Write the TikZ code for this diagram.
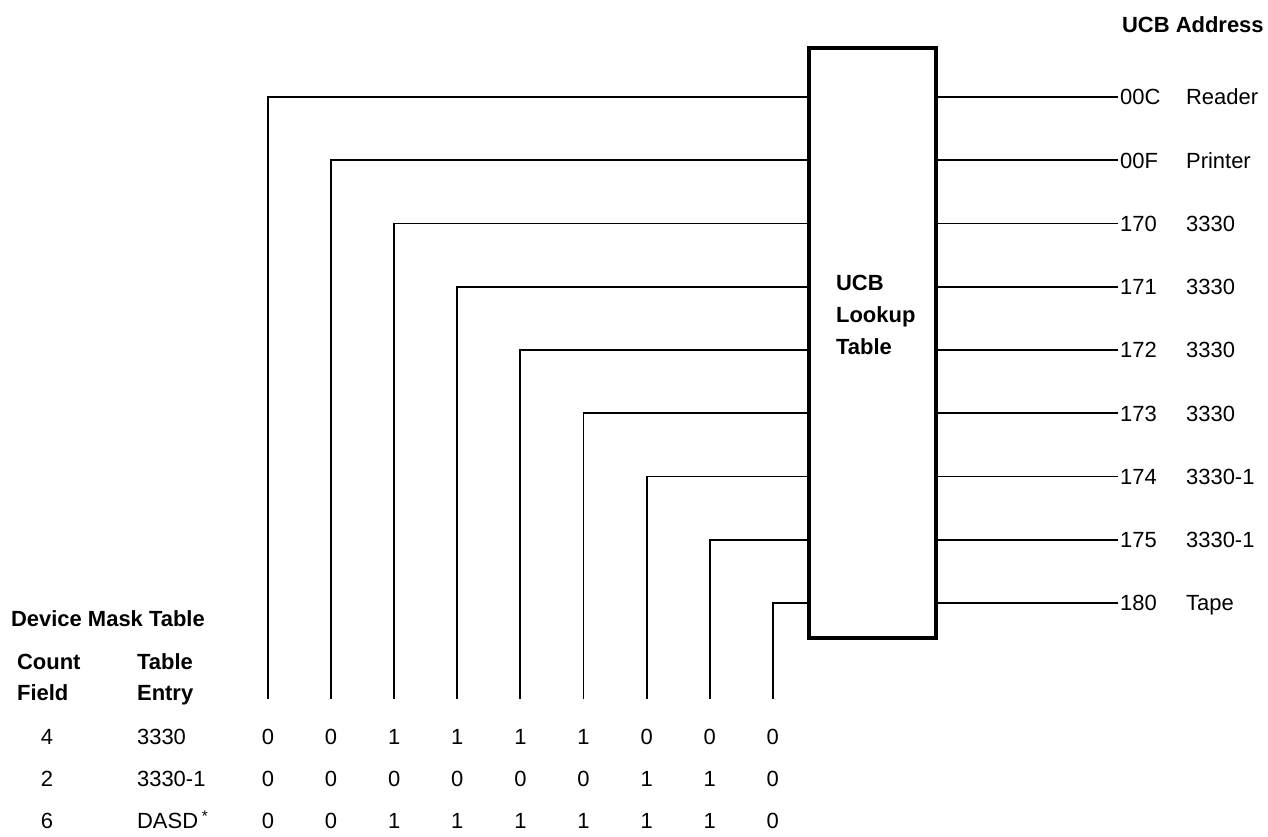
\documentclass[tikz,border=0pt]{standalone}
\usepackage{fontspec}
\setmainfont{Liberation Sans}
\usetikzlibrary{positioning}

\begin{document}
\begin{tikzpicture}[x=0.02cm, y=-0.02cm,
  txt/.style={font=\fontsize{12.5}{15}\selectfont, inner sep=1pt, text height=9pt, text depth=0pt},
  head/.style={txt, font=\fontsize{12.5}{15}\selectfont\bfseries},
  wire/.style={line width=1.1pt},
  lookup/.style={draw, line width=2.3pt, minimum width=2.54cm, minimum height=11.8cm, inner sep=0pt}
]
  \useasboundingbox (0,0) rectangle (1268,836);

  % Lookup table box
  \node[lookup] (ucb) at (872.5, 343) {};
  \node[font=\fontsize{12.5}{15}\selectfont\bfseries, inner sep=1pt, anchor=west, align=left] (ucblabel) at (834, 315) {UCB\\[3pt]Lookup\\[3pt]Table};
  \node[head, anchor=west] (addrhead) at (1120, 25) {UCB Address};

  % Wires in and out of the table
  \foreach \i/\addr/\dev in {1/00C/Reader, 2/00F/Printer, 3/170/3330, 4/171/3330, 5/172/3330,
                             6/173/3330, 7/174/3330-1, 8/175/3330-1, 9/180/Tape} {
    \pgfmathsetmacro\yy{97+63.25*(\i-1)}
    \pgfmathsetmacro\xx{268+63.1*(\i-1)}
    \coordinate (in\i) at (809, \yy);
    \coordinate (foot\i) at (\xx, 699);
    \node[txt, anchor=west] (addr\i) at (1118, \yy) {\addr};
    \node[txt, anchor=west] (dev\i) at (1184, \yy) {\dev};
    \draw[wire] (foot\i) |- (in\i);
    \draw[wire] (ucb.east |- addr\i) -- (addr\i.west);
  }

  % Device mask table
  \node[head, anchor=west] (masktitle) at (9, 619) {Device Mask Table};
  \node[head, anchor=west] (count1) at (15, 662) {Count};
  \node[head, anchor=west] (count2) at (15, 693) {Field};
  \node[head, anchor=west] (entry1) at (135, 662) {Table};
  \node[head, anchor=west] (entry2) at (135, 693) {Entry};
  \node[txt] (cnt1) at (47, 737) {4};
  \node[txt] (cnt2) at (47, 779) {2};
  \node[txt] (cnt3) at (47, 821) {6};
  \node[txt, anchor=west] (ent1) at (135, 737) {3330};
  \node[txt, anchor=west] (ent2) at (135, 779) {3330-1};
  \node[txt, anchor=west] (ent3) at (135, 821) {DASD\,\textsuperscript{*}};
  \foreach \i/\a/\b/\c in {1/0/0/0, 2/0/0/0, 3/1/0/1, 4/1/0/1, 5/1/0/1,
                           6/1/0/1, 7/0/1/1, 8/0/1/1, 9/0/0/0} {
    \pgfmathsetmacro\xx{268+63.1*(\i-1)}
    \node[txt] (bita\i) at (\xx, 737) {\a};
    \node[txt] (bitb\i) at (\xx, 779) {\b};
    \node[txt] (bitc\i) at (\xx, 821) {\c};
  }
\end{tikzpicture}
\end{document}
